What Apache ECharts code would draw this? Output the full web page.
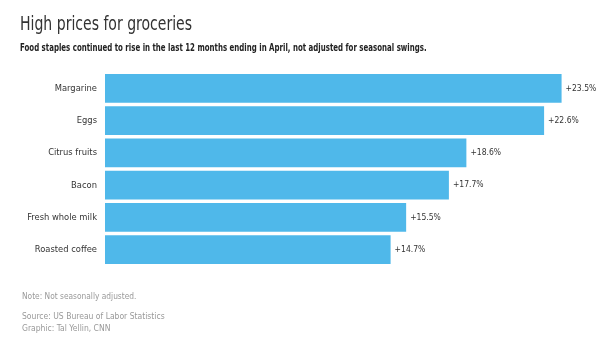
<!DOCTYPE html>
<html><head><meta charset="utf-8">
<script src="https://cdn.jsdelivr.net/npm/echarts@6/dist/echarts.min.js"></script>
<style>html,body{margin:0;padding:0;background:#fff}#c{width:600px;height:345px}</style>
</head><body><div id="c"></div>
<script>
const categories = ['Margarine','Eggs','Citrus fruits','Bacon','Fresh whole milk','Roasted coffee'];
const values = [23.5, 22.6, 18.6, 17.7, 15.5, 14.7];
const valueLabels = ['+23.5%','+22.6%','+18.6%','+17.7%','+15.5%','+14.7%'];
const FONT = "'Liberation Sans Narrow', 'DejaVu Sans Condensed', Roboto, sans-serif";
const chart = echarts.init(document.getElementById('c'), null, {renderer:'canvas'});
chart.setOption({
  animation:false,
  backgroundColor:'#fff',
  grid:{left:105, top:72.2, width:466.3, height:193.6, containLabel:false},
  xAxis:{type:'value', min:0, max:24, show:false},
  yAxis:{type:'category', data:categories, inverse:true,
    axisLine:{show:false}, axisTick:{show:false},
    axisLabel:{color:'#333', fontSize:9.3, fontFamily:FONT, margin:8}},
  series:[{type:'bar', data:values, barCategoryGap:'11%',
    itemStyle:{color:'#4FB8EA'},
    label:{show:true, position:'right', distance:4, color:'#333', fontSize:8.5, fontFamily:FONT,
      formatter:p=>valueLabels[p.dataIndex]}}],
  graphic:[
    {type:'text', x:20, y:15, scaleX:0.78, style:{text:'High prices for groceries', fill:'#333', font:"20px "+FONT, textVerticalAlign:'top'}},
    {type:'text', x:20, y:43, scaleX:0.71, style:{text:'Food staples continued to rise in the last 12 months ending in April, not adjusted for seasonal swings.', fill:'#222', font:"bold 11px "+FONT, textVerticalAlign:'top'}},
    {type:'text', x:22, y:293, style:{text:'Note: Not seasonally adjusted.', fill:'#999', font:"8.3px "+FONT, textVerticalAlign:'top'}},
    {type:'text', x:22, y:312, style:{text:'Source: US Bureau of Labor Statistics', fill:'#999', font:"8.5px "+FONT, textVerticalAlign:'top'}},
    {type:'text', x:22, y:324, style:{text:'Graphic: Tal Yellin, CNN', fill:'#999', font:"8.5px "+FONT, textVerticalAlign:'top'}}
  ]
});
</script></body></html>
